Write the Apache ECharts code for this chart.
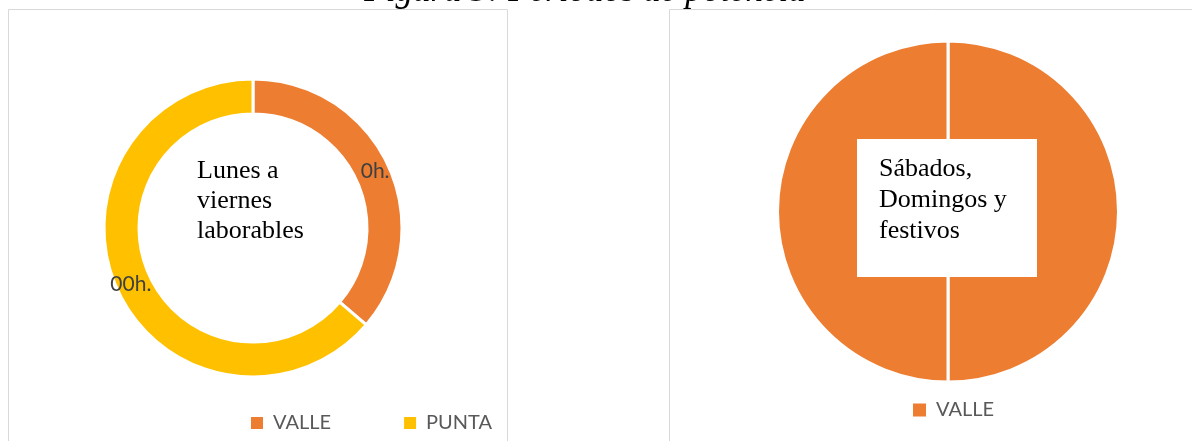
<!DOCTYPE html>
<html>
<head>
<meta charset="utf-8">
<script src="https://cdn.jsdelivr.net/npm/echarts@6/dist/echarts.min.js"></script>
<style>
  html, body { margin: 0; padding: 0; background: #fff; }
  #chart { width: 1192px; height: 441px; }
</style>
</head>
<body>
<div id="chart"></div>
<script>
// Data (hours per day)
const weekdayPeriods = ['VALLE', 'PUNTA'];
const weekdayHours = [8.7, 15.3];
const weekdayLabels = ['0h.', '00h.'];
const weekendPeriods = ['VALLE', 'VALLE'];
const weekendHours = [12, 12];

const ORANGE = '#ED7D31';
const YELLOW = '#FFC000';
const periodColors = { VALLE: ORANGE, PUNTA: YELLOW };

const chart = echarts.init(document.getElementById('chart'));

const legendText = {
    fontFamily: 'Lato, "Open Sans", sans-serif',
    fontSize: 20,
    color: '#595959',
    padding: [0, 0, 0, 4]
};

const option = {
    animation: false,
    legend: [
        {
            data: ['VALLE', 'PUNTA'],
            left: 249,
            top: 413,
            padding: 0,
            icon: 'rect',
            itemWidth: 14,
            itemHeight: 14,
            itemGap: 71,
            textStyle: legendText
        },
        {
            data: ['VALLE'],
            left: 911,
            top: 400,
            padding: 0,
            icon: 'rect',
            itemWidth: 15,
            itemHeight: 15,
            textStyle: legendText
        }
    ],
    graphic: [
        // panel frames
        {
            type: 'rect', z: -10,
            shape: { x: 8.5, y: 9.5, width: 499, height: 460 },
            style: { fill: '#fff', stroke: '#d9d9d9', lineWidth: 1 }
        },
        {
            type: 'rect', z: -10,
            shape: { x: 669.5, y: 9.5, width: 560, height: 460 },
            style: { fill: '#fff', stroke: '#d9d9d9', lineWidth: 1 }
        },
        // figure caption, cut by the top edge
        {
            type: 'text', z: 10,
            x: 585, y: -8,
            style: {
                text: 'Figura 5: Periodos de potencia',
                font: 'italic 35px "Liberation Serif", serif',
                fill: '#000',
                align: 'center',
                verticalAlign: 'middle'
            }
        },
        // text inside the donut
        {
            type: 'text', z: 10,
            x: 197, y: 156,
            style: {
                text: 'Lunes a\nviernes\nlaborables',
                font: '26px "Liberation Serif", serif',
                lineHeight: 30,
                fill: '#000',
                verticalAlign: 'top'
            }
        },
        // white box on the full pie
        {
            type: 'rect', z: 10,
            shape: { x: 857, y: 139, width: 180, height: 138 },
            style: { fill: '#fff' }
        },
        {
            type: 'text', z: 11,
            x: 879, y: 154,
            style: {
                text: 'Sábados,\nDomingos y\nfestivos',
                font: '26px "Liberation Serif", serif',
                lineHeight: 31,
                fill: '#000',
                verticalAlign: 'top'
            }
        }
    ],
    series: [
        {
            name: 'Lunes a viernes laborables',
            type: 'pie',
            center: [253, 228],
            radius: [114, 149],
            startAngle: 90,
            clockwise: true,
            silent: true,
            itemStyle: { borderColor: '#fff', borderWidth: 3 },
            label: {
                show: true,
                position: 'inside',
                formatter: (p) => weekdayLabels[p.dataIndex],
                fontFamily: 'Lato, "Open Sans", sans-serif',
                fontSize: 21,
                color: '#404040'
            },
            labelLine: { show: false },
            data: weekdayPeriods.map((name, i) => ({
                name: name,
                value: weekdayHours[i],
                itemStyle: { color: periodColors[name] }
            }))
        },
        {
            name: 'Sábados, Domingos y festivos',
            type: 'pie',
            center: [948, 211.5],
            radius: [0, 170.5],
            startAngle: 90,
            silent: true,
            itemStyle: { color: ORANGE, borderColor: '#fff', borderWidth: 3 },
            label: { show: false },
            labelLine: { show: false },
            data: weekendPeriods.map((name, i) => ({ name: name, value: weekendHours[i] }))
        }
    ]
};

chart.setOption(option);
window.addEventListener('resize', () => chart.resize());
</script>
</body>
</html>
